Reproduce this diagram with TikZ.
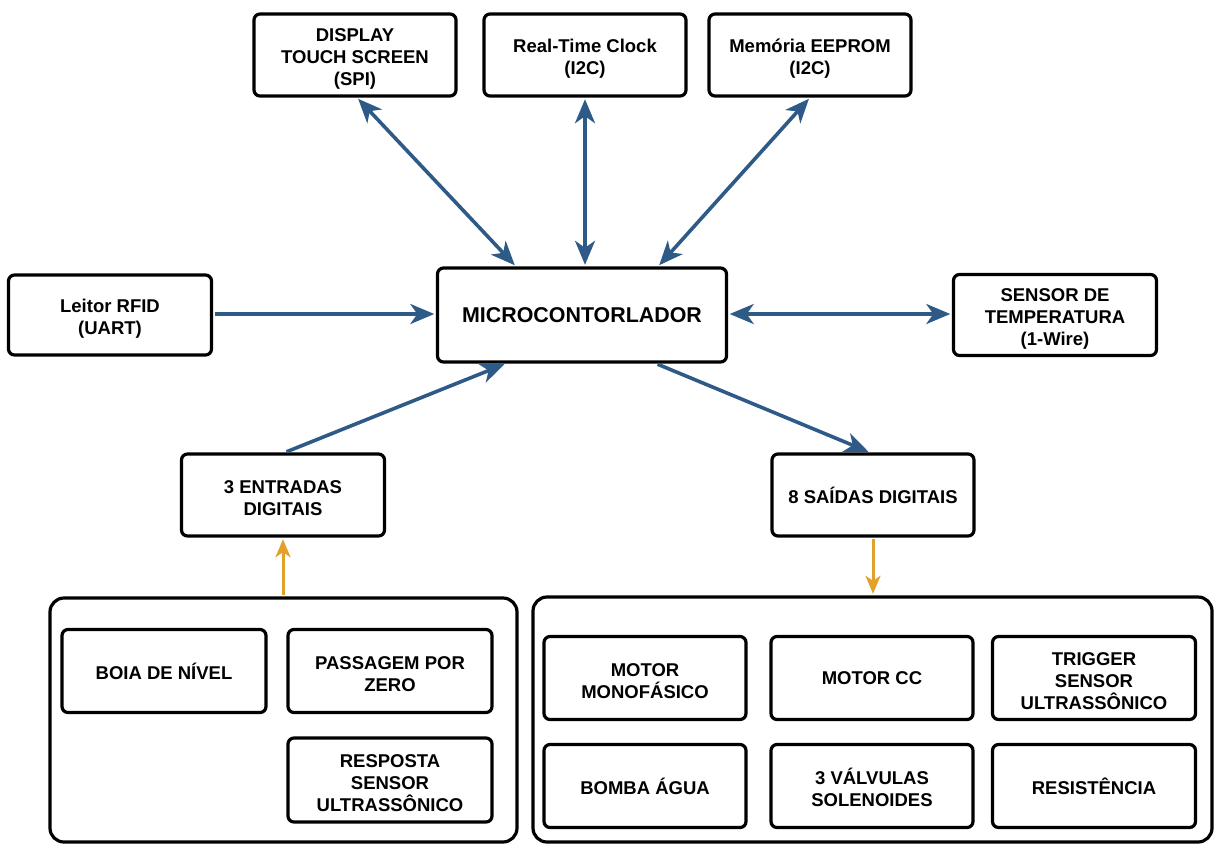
\documentclass[tikz,border=0pt]{standalone}
\usepackage{fontspec}
\setmainfont{Liberation Sans}
\usetikzlibrary{arrows.meta}
\definecolor{linkblue}{HTML}{2E5A87}
\definecolor{ioorange}{HTML}{E2A12C}
% raises the first line of a multi-line label so the block sits centred
\newcommand{\firstline}{\rule{0pt}{20pt}}
\begin{document}
\begin{tikzpicture}[x=1pt,y=-1pt,
  blk/.style={draw=black, line width=3.2pt, rounded corners=6pt, fill=white,
    align=center, inner sep=2pt, font=\bfseries\fontsize{18.5}{22}\selectfont,
    minimum width=#1},
  blk/.default=202pt,
  grp/.style={draw=black, line width=3.2pt, rounded corners=14pt},
  bus/.style={draw=linkblue, line width=3.6pt,
    {Stealth[length=24pt,width=20pt,inset=7pt]}-{Stealth[length=24pt,width=20pt,inset=7pt]},
    shorten <=1.6pt, shorten >=1.6pt},
  link/.style={draw=linkblue, line width=3.6pt,
    -{Stealth[length=24pt,width=20pt,inset=7pt]}, shorten <=1.6pt, shorten >=1.6pt},
  io/.style={draw=ioorange, line width=3pt,
    -{Stealth[length=18pt,width=15pt,inset=5pt]}, shorten <=1.6pt, shorten >=1.6pt}]
\useasboundingbox (0,0) rectangle (1214,844);

% peripherals around the microcontroller
\node[blk, minimum height=82pt] (disp) at (355,55) {\firstline DISPLAY\\TOUCH SCREEN\\(SPI)};
\node[blk, minimum height=82pt] (rtc) at (585,55) {\firstline Real-Time Clock\\(I2C)};
\node[blk, minimum height=82pt] (eep) at (810,55) {\firstline Memória EEPROM\\(I2C)};
\node[blk=203pt, minimum height=80pt] (rfid) at (110,315) {\firstline Leitor RFID\\(UART)};
\node[blk=289pt, minimum height=94pt, font=\bfseries\fontsize{21.4}{25}\selectfont] (mcu) at (582,315) {MICROCONTORLADOR};
\node[blk=203pt, minimum height=81pt] (temp) at (1055,315) {\firstline SENSOR DE\\TEMPERATURA\\(1-Wire)};
\node[blk=203pt, minimum height=82pt] (din) at (283,495) {\firstline 3 ENTRADAS\\DIGITAIS};
\node[blk, minimum height=82pt] (dout) at (873,495) {8 SAÍDAS DIGITAIS};

% input group
\node[grp, minimum width=467pt, minimum height=244pt] (ingrp) at (283.5,720) {};
\node[blk=204pt, minimum height=83pt] (boia) at (164,671) {BOIA DE NÍVEL};
\node[blk=204pt, minimum height=83pt] (zero) at (390,671) {\firstline PASSAGEM POR\\ZERO};
\node[blk=204pt, minimum height=84pt] (echo) at (390,780) {\firstline RESPOSTA\\SENSOR\\ULTRASSÔNICO};

% output group
\node[grp, minimum width=679pt, minimum height=245pt] (outgrp) at (872.5,719.5) {};
\node[blk, minimum height=83pt] (mono) at (645,678) {\firstline MOTOR\\MONOFÁSICO};
\node[blk, minimum height=83pt] (mcc) at (872,678) {MOTOR CC};
\node[blk=203pt, minimum height=83pt] (trig) at (1094,678) {\firstline TRIGGER\\SENSOR\\ULTRASSÔNICO};
\node[blk, minimum height=83pt] (bomba) at (645,786) {BOMBA ÁGUA};
\node[blk, minimum height=83pt] (valv) at (872,786) {\firstline 3 VÁLVULAS\\SOLENOIDES};
\node[blk=203pt, minimum height=83pt] (res) at (1094,786) {RESISTÊNCIA};

% buses
\draw[bus] ([xshift=2pt]disp.south) -- ([xshift=80pt]mcu.north west);
\draw[bus] (rtc.south) -- ([xshift=3pt]mcu.north);
\draw[bus] (eep.south) -- ([xshift=-70pt]mcu.north east);
\draw[link] ([yshift=1pt]rfid.east) -- ([yshift=1pt]mcu.west);
\draw[bus] ([yshift=1pt]mcu.east) -- ([yshift=1pt]temp.west);
\draw[link] ([xshift=2pt]din.north) -- ([xshift=70pt]mcu.south west);
\draw[link] ([xshift=-72pt]mcu.south east) -- ([xshift=-3pt]dout.north);
\draw[io] (ingrp.north -| din.south) -- (din.south);
\draw[io] (dout.south) -- (outgrp.north -| dout.south);
\end{tikzpicture}
\end{document}
